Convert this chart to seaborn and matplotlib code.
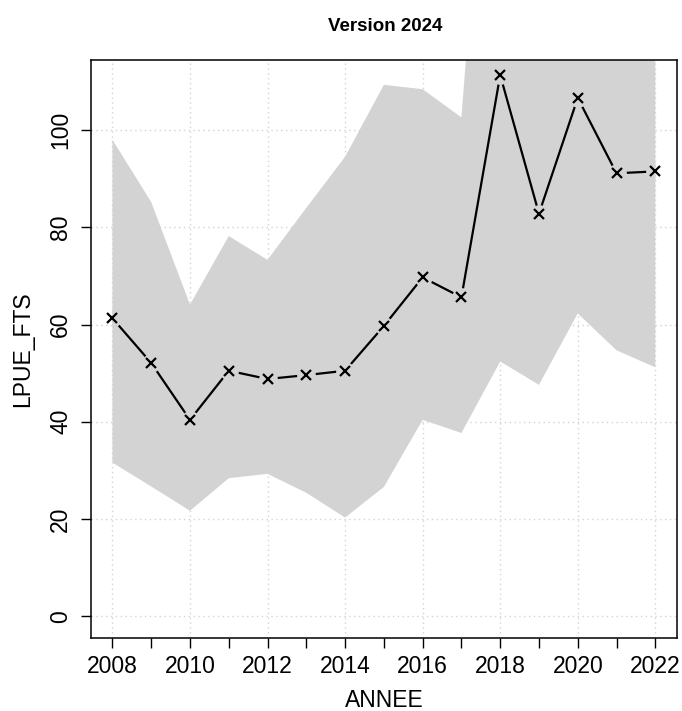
import matplotlib
matplotlib.use("Agg")
import matplotlib.pyplot as plt
import seaborn as sns
import pandas as pd

# values
years = [2008, 2009, 2010, 2011, 2012, 2013, 2014, 2015, 2016, 2017, 2018, 2019, 2020, 2021, 2022]
lpue = [61.3, 52.1, 40.4, 50.5, 48.8, 49.6, 50.5, 59.7, 69.7, 65.6, 111.3, 82.8, 106.6, 91.1, 91.5]
upper = [98.0, 85.2, 64.1, 78.2, 73.3, 84.0, 94.5, 109.3, 108.4, 102.6, 205.0, 160.0, 190.0, 165.0, 170.0]
lower = [31.6, 26.7, 21.7, 28.4, 29.3, 25.4, 20.3, 26.6, 40.4, 37.7, 52.4, 47.6, 62.3, 54.7, 51.2]

df = pd.DataFrame({"ANNEE": years, "LPUE_FTS": lpue, "upper": upper, "lower": lower})

sns.set_style("white")
plt.rcParams["font.family"] = ["Liberation Sans", "DejaVu Sans"]
plt.rcParams["text.color"] = "black"
plt.rcParams["axes.labelcolor"] = "black"
plt.rcParams["xtick.color"] = "black"
plt.rcParams["ytick.color"] = "black"

fig = plt.figure(figsize=(6.82, 7.11), dpi=100)
ax = fig.add_axes([0.133, 0.1031, 0.8597, 0.8125])

# grid below the band
ax.grid(True, linestyle=(0, (1, 2.5)), color="#D3D3D3", linewidth=1)
ax.set_axisbelow(True)

band = ax.fill_between(df["ANNEE"], df["lower"], df["upper"], color="#D3D3D3",
                       linewidth=0, zorder=2)

# R type="b": line with gaps around the points
sns.lineplot(data=df, x="ANNEE", y="LPUE_FTS", color="black", linewidth=1.6, ax=ax, zorder=3)
gaps, = ax.plot(df["ANNEE"], df["LPUE_FTS"], linestyle="none", marker="o", ms=13.5,
                mfc="#D3D3D3", mec="none", zorder=4)
gaps.set_clip_path(band.get_paths()[0], ax.transData)
ax.plot(df["ANNEE"], df["LPUE_FTS"], linestyle="none", marker="x", ms=7,
        mew=1.6, color="black", zorder=5)

ax.set_xlim(2007.44, 2022.56)
ax.set_ylim(-4.4, 114.4)
ax.set_xticks(years[::2])
ax.set_xticks(years[1::2], minor=True)
ax.set_yticks([0, 20, 40, 60, 80, 100])

for s in ax.spines.values():
    s.set_color("black")
    s.set_linewidth(1.1)

ax.tick_params(axis="both", which="both", direction="out", length=7.2, width=1,
               color="black", labelsize=16.5, labelcolor="black", bottom=True, left=True)
ax.tick_params(axis="x", pad=5)
ax.tick_params(axis="y", pad=6)
for lab in ax.get_yticklabels():
    lab.set_rotation(90)
    lab.set_va("center")

ax.set_xlabel("ANNEE", fontsize=16.5, color="black")
ax.set_ylabel("LPUE_FTS", fontsize=16.5, color="black")
ax.xaxis.set_label_coords(0.5, -0.089)
ax.yaxis.set_label_coords(-0.097, 0.5)

fig.text(385 / 682, 1 - 30.7 / 711, "Version 2024", ha="center", va="baseline",
         fontsize=13.5, fontweight="bold", color="black")

fig.savefig("out.png", dpi=100)
